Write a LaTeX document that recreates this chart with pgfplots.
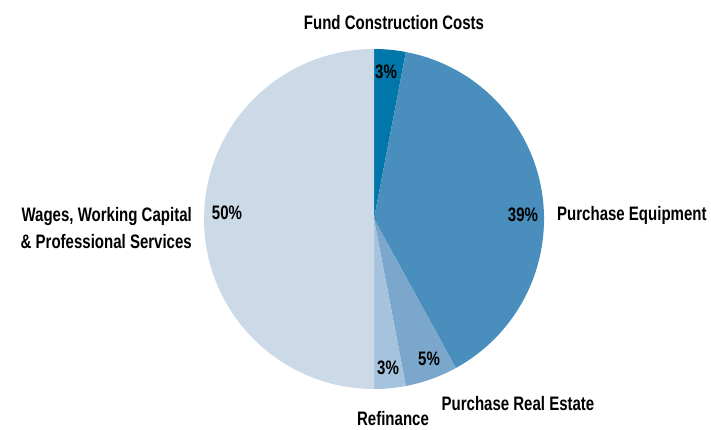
\documentclass[border=0pt]{standalone}
\usepackage{fontspec}
\setmainfont{Liberation Sans}[FakeStretch=0.77]
\usepackage{pgfplots}
\usepackage{pgfplotstable}
\pgfplotsset{compat=1.18}

\definecolor{cA}{HTML}{0077A8}
\definecolor{cB}{HTML}{4A8EBD}
\definecolor{cC}{HTML}{7BA7CD}
\definecolor{cD}{HTML}{A5C3DD}
\definecolor{cE}{HTML}{CCDAE7}

% slices clockwise from 12 o'clock
\pgfplotstableread{
value col
3  cA
39 cB
5  cC
3  cD
50 cE
}\piedata

\begin{document}
\begin{tikzpicture}
\begin{axis}[
  x=1pt, y=1pt,
  xmin=-374, xmax=337, ymin=-210, ymax=219,
  hide axis, clip=false,
]
\path (axis cs:-374,-210) rectangle (axis cs:337,219);
\def\cum{0}
\pgfplotsforeachungrouped \i in {0,...,4}{%
  \pgfplotstablegetelem{\i}{value}\of\piedata \let\v=\pgfplotsretval
  \pgfplotstablegetelem{\i}{col}\of\piedata \let\c=\pgfplotsretval
  \pgfmathsetmacro{\aS}{90-3.6*\cum}%
  \pgfmathsetmacro{\aE}{90-3.6*(\cum+\v)}%
  \pgfmathsetmacro{\xS}{170*cos(\aS)}%
  \pgfmathsetmacro{\yS}{170*sin(\aS)}%
  \edef\temp{\noexpand\fill[\c] (axis cs:0,0) -- (axis cs:\xS,\yS)
    arc[start angle=\aS, end angle=\aE, radius=170pt] -- cycle;}%
  \temp
  \pgfmathsetmacro{\cum}{\cum+\v}%
}

\tikzset{lbl/.style={font=\fontsize{19.5}{27}\selectfont\bfseries, inner sep=0pt, text=black}}
\node[lbl] at (axis cs:12,147) {3\%};
\node[lbl] at (axis cs:149,4) {39\%};
\node[lbl] at (axis cs:55,-140) {5\%};
\node[lbl] at (axis cs:14,-149) {3\%};
\node[lbl] at (axis cs:-147,6) {50\%};

\node[lbl] at (axis cs:20,196) {Fund Construction Costs};
\node[lbl, anchor=west] at (axis cs:183,4) {Purchase Equipment};
\node[lbl] at (axis cs:144,-185) {Purchase Real Estate};
\node[lbl] at (axis cs:19,-200) {Refinance};
\node[lbl, anchor=east, align=right] at (axis cs:-182,-9) {Wages, Working Capital\\\& Professional Services};
\end{axis}
\end{tikzpicture}
\end{document}
